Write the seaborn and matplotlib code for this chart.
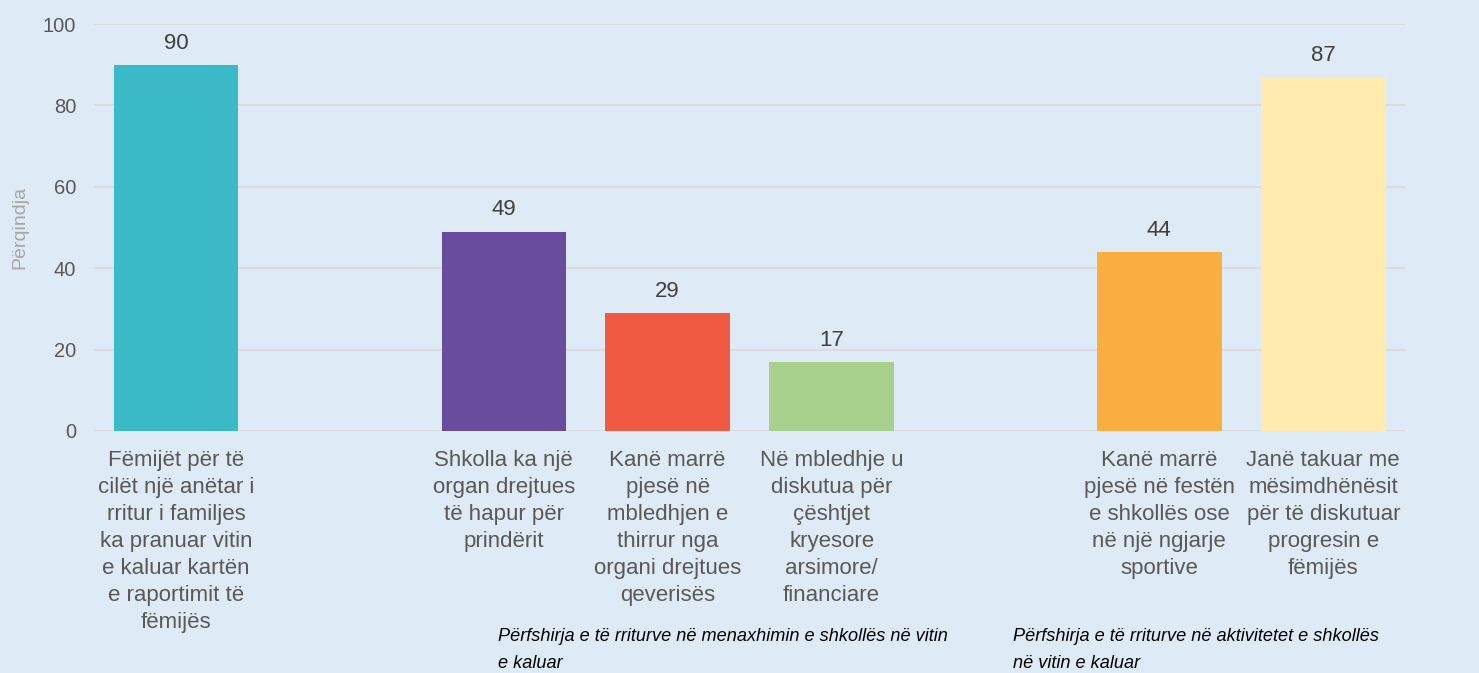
import pandas as pd
import seaborn as sns
import matplotlib.pyplot as plt

# categories (line breaks as in the original chart), blanks are the gaps between groups
categories = [
    "Fëmijët për të\ncilët një anëtar i\nrritur i familjes\nka pranuar vitin\ne kaluar kartën\ne raportimit të\nfëmijës",
    "Shkolla ka një\norgan drejtues\ntë hapur për\nprindërit",
    "Kanë marrë\npjesë në\nmbledhjen e\nthirrur nga\norgani drejtues\nqeverisës",
    "Në mbledhje u\ndiskutua për\nçështjet\nkryesore\narsimore/\nfinanciare",
    "Kanë marrë\npjesë në festën\ne shkollës ose\nnë një ngjarje\nsportive",
    "Janë takuar me\nmësimdhënësit\npër të diskutuar\nprogresin e\nfëmijës",
]
values = [90, 49, 29, 17, 44, 87]
colors = ["#3BB9C6", "#6A4C9F", "#F15A42", "#A9D18E", "#FBAE40", "#FFEBAF"]
order = [categories[0], " ", categories[1], categories[2], categories[3],
         "  ", categories[4], categories[5]]

group_labels = [
    "Përfshirja e të rriturve në menaxhimin e shkollës në vitin\ne kaluar",
    "Përfshirja e të rriturve në aktivitetet e shkollës\nnë vitin e kaluar",
]
ylabel = "Përqindja"

df = pd.DataFrame({"kategoria": categories, "perqindja": values})

bg = "#DEEAF6"
sns.set_theme(style="whitegrid")
plt.rcParams["font.family"] = ["Liberation Sans", "DejaVu Sans"]

fig = plt.figure(figsize=(14.79, 6.73), dpi=100, facecolor=bg)
ax = fig.add_axes([0.0636, 0.3596, 0.8865, 0.6047])
ax.set_facecolor(bg)

sns.barplot(data=df, x="kategoria", y="perqindja", hue="kategoria",
            order=order, hue_order=categories, palette=dict(zip(categories, colors)),
            width=0.76, dodge=False, legend=False, saturation=1, linewidth=0, ax=ax)

for cont in ax.containers:
    ax.bar_label(cont, fmt="%.0f", padding=8, fontsize=16, color="#404040")

ax.set_xlim(-0.5, 7.5)
ax.set_ylim(0, 100)
ax.set_yticks([0, 20, 40, 60, 80, 100])
ax.grid(axis="y", color="#D9D9D9", linewidth=1.2)
ax.grid(axis="x", visible=False)
ax.set_axisbelow(True)
for s in ax.spines.values():
    s.set_visible(False)
ax.tick_params(axis="y", labelsize=14.5, labelcolor="#595959", length=0, pad=13)
ax.tick_params(axis="x", length=0, labelbottom=False)
ax.set_xlabel("")
ax.set_ylabel(ylabel, fontsize=14, color="#A6A6A6", labelpad=10)

# category labels below the bars (multi-line, wider line spacing)
for i, lab in enumerate(order):
    if lab.strip():
        ax.annotate(lab, xy=(i, 0), xycoords=("data", "axes fraction"),
                    xytext=(0, -14), textcoords="offset points",
                    ha="center", va="top", fontsize=16, color="#595959",
                    linespacing=1.37)

fig.text(498 / 1479, 1 - 628 / 673, group_labels[0], fontsize=13.1, style="italic",
         color="black", ha="left", va="top", linespacing=1.75)
fig.text(1013 / 1479, 1 - 628 / 673, group_labels[1], fontsize=13.1, style="italic",
         color="black", ha="left", va="top", linespacing=1.75)

fig.savefig("out.png", dpi=100, facecolor=bg)
